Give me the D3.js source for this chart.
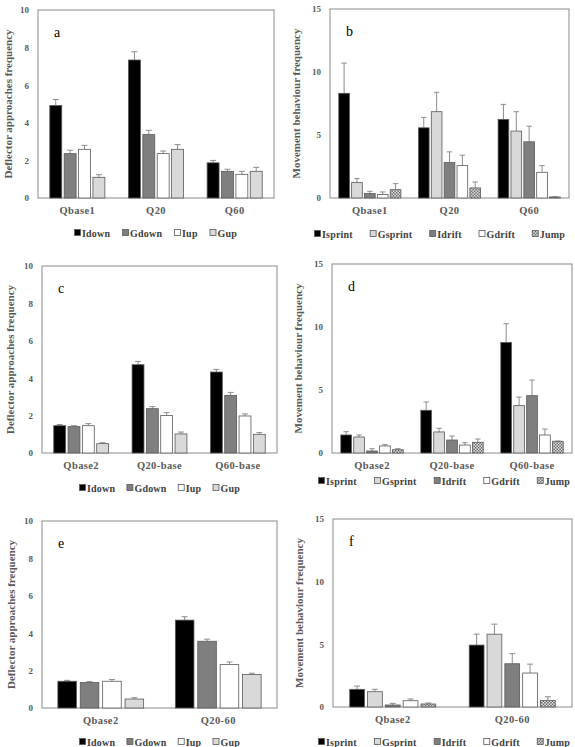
<!DOCTYPE html>
<html lang="en">
<head>
  <meta charset="UTF-8">
  <title>deflector and movement panels</title>
  <style>
    body { margin: 0; background: #fff; }
    svg text { font-family: "Liberation Serif", "Times New Roman", "DejaVu Serif", serif; font-weight: bold; }
  </style>
</head>
<body>
<script src="https://cdn.jsdelivr.net/npm/d3@7"></script>
<script>
  // categories and series
  var catsAB = ["Qbase1", "Q20", "Q60"];
  var catsCD = ["Qbase2", "Q20-base", "Q60-base"];
  var catsEF = ["Qbase2", "Q20-60"];
  var approachKeys = ["Idown", "Gdown", "Iup", "Gup"];
  var moveKeys = ["Isprint", "Gsprint", "Idrift", "Gdrift", "Jump"];
  var approachTicks = [0, 2, 4, 6, 8, 10];
  var moveTicks = [0, 5, 10, 15];

  // means and (upper) error bars, one row per category
  var meanA = [[4.92, 2.36, 2.59, 1.10], [7.34, 3.37, 2.36, 2.59], [1.87, 1.42, 1.26, 1.42]];
  var errA  = [[0.32, 0.18, 0.21, 0.14], [0.44, 0.23, 0.14, 0.25], [0.13, 0.11, 0.16, 0.21]];
  var meanB = [[8.31, 1.22, 0.35, 0.27, 0.66], [5.57, 6.85, 2.81, 2.57, 0.80], [6.24, 5.31, 4.46, 2.04, 0.08]];
  var errB  = [[2.39, 0.32, 0.18, 0.21, 0.48], [0.83, 1.54, 0.85, 0.83, 0.47], [1.19, 1.54, 1.24, 0.53, 0.02]];
  var meanC = [[1.46, 1.41, 1.46, 0.50], [4.72, 2.37, 2.01, 1.02], [4.33, 3.08, 1.98, 1.00]];
  var errC  = [[0.06, 0.05, 0.11, 0.05], [0.18, 0.11, 0.15, 0.10], [0.14, 0.16, 0.11, 0.09]];
  var meanD = [[1.43, 1.27, 0.16, 0.56, 0.26], [3.39, 1.67, 1.03, 0.63, 0.85], [8.78, 3.76, 4.55, 1.43, 0.93]];
  var errD  = [[0.26, 0.16, 0.18, 0.10, 0.08], [0.66, 0.29, 0.32, 0.19, 0.26], [1.48, 0.68, 1.24, 0.47, 0.02]];
  var meanE = [[1.43, 1.36, 1.43, 0.48], [4.70, 3.57, 2.32, 1.79]];
  var errE  = [[0.05, 0.05, 0.09, 0.07], [0.18, 0.11, 0.14, 0.07]];
  var meanF = [[1.41, 1.22, 0.16, 0.50, 0.24], [4.94, 5.81, 3.45, 2.71, 0.53]];
  var errF  = [[0.26, 0.19, 0.13, 0.14, 0.08], [0.87, 0.80, 0.80, 0.71, 0.29]];

  var approachFill = ["#000", "#7f7f7f", "#fff", "#d9d9d9"];
  var moveFill = ["#000", "#d9d9d9", "#7f7f7f", "#fff", "url(#jump)"];

  var svg = d3.select("body").append("svg")
    .attr("width", 575)
    .attr("height", 747);

  var pat = svg.append("defs").append("pattern")
    .attr("id", "jump")
    .attr("width", 3).attr("height", 3)
    .attr("patternUnits", "userSpaceOnUse");
  pat.append("rect").attr("width", 3).attr("height", 3).attr("fill", "#fff");
  pat.append("rect").attr("width", 1.5).attr("height", 1.5).attr("fill", "#4d4d4d");
  pat.append("rect").attr("x", 1.5).attr("y", 1.5).attr("width", 1.5).attr("height", 1.5).attr("fill", "#4d4d4d");

  var panels = [
    {label: "a", cats: catsAB, keys: approachKeys, mean: meanA, err: errA, fill: approachFill, ymax: 10, ticks: approachTicks,
     title: "Deflector approaches frequency", left: 38, top: 10, right: 274, bottom: 198, titleX: 12,
     legX: 74, legEnd: 237, legY: 233, pad: 0.3},
    {label: "b", cats: catsAB, keys: moveKeys, mean: meanB, err: errB, fill: moveFill, ymax: 15, ticks: moveTicks,
     title: "Movement behaviour frequency", left: 330, top: 9, right: 569, bottom: 198, titleX: 300,
     legX: 314, legEnd: 565, legY: 234, pad: 0.22},
    {label: "c", cats: catsCD, keys: approachKeys, mean: meanC, err: errC, fill: approachFill, ymax: 10, ticks: approachTicks,
     title: "Deflector approaches frequency", left: 42, top: 266, right: 277, bottom: 453, titleX: 14,
     legX: 79, legEnd: 240, legY: 488, pad: 0.3},
    {label: "d", cats: catsCD, keys: moveKeys, mean: meanD, err: errD, fill: moveFill, ymax: 15, ticks: moveTicks,
     title: "Movement behaviour frequency", left: 332, top: 264, right: 572, bottom: 453, titleX: 302,
     legX: 318, legEnd: 570, legY: 481, pad: 0.22},
    {label: "e", cats: catsEF, keys: approachKeys, mean: meanE, err: errE, fill: approachFill, ymax: 10, ticks: approachTicks,
     title: "Deflector approaches frequency", left: 42, top: 521, right: 277, bottom: 708, titleX: 15,
     legX: 79, legEnd: 240, legY: 742, pad: 0.27},
    {label: "f", cats: catsEF, keys: moveKeys, mean: meanF, err: errF, fill: moveFill, ymax: 15, ticks: moveTicks,
     title: "Movement behaviour frequency", left: 333, top: 519, right: 572, bottom: 707, titleX: 303,
     legX: 318, legEnd: 570, legY: 742, pad: 0.28}
  ];

  panels.forEach(drawPanel);

  function drawPanel(p) {
    var g = svg.append("g").attr("class", "panel-" + p.label);

    var x0 = d3.scaleBand()
      .domain(p.cats)
      .range([p.left, p.right])
      .paddingInner(p.pad)
      .paddingOuter(p.pad / 2);
    var x1 = d3.scaleBand()
      .domain(p.keys)
      .range([0, x0.bandwidth()])
      .paddingInner(0.17);
    var y = d3.scaleLinear()
      .domain([0, p.ymax])
      .range([p.bottom, p.top]);

    g.append("rect")
      .attr("x", p.left).attr("y", p.top)
      .attr("width", p.right - p.left).attr("height", p.bottom - p.top)
      .attr("fill", "none")
      .attr("stroke", "#8a8a8a");

    var yAxis = g.append("g")
      .attr("transform", "translate(" + p.left + ",0)")
      .call(d3.axisLeft(y).tickValues(p.ticks).tickSize(0).tickPadding(9));
    yAxis.select(".domain").remove();
    yAxis.selectAll("text").attr("fill", "#595959").style("font-size", "9px");

    var xAxis = g.append("g")
      .attr("transform", "translate(0," + p.bottom + ")")
      .call(d3.axisBottom(x0).tickSize(0).tickPadding(9));
    xAxis.select(".domain").remove();
    xAxis.selectAll("text").attr("fill", "#595959").style("font-size", "10.5px").style("letter-spacing", "0.4px");

    g.append("text")
      .attr("transform", "translate(" + p.titleX + "," + ((p.top + p.bottom) / 2) + ") rotate(-90)")
      .attr("text-anchor", "middle")
      .attr("fill", "#595959")
      .style("font-size", "11px")
      .text(p.title);

    g.append("text")
      .attr("x", p.left + 16)
      .attr("y", p.top + 27)
      .attr("fill", "#000")
      .style("font-size", "14px")
      .style("font-weight", "normal")
      .text(p.label);

    var groups = g.selectAll(".grp")
      .data(p.cats)
      .enter().append("g")
      .attr("class", "grp")
      .attr("transform", function(d) { return "translate(" + x0(d) + ",0)"; });

    groups.each(function(cat, i) {
      var rows = p.keys.map(function(k, j) { return {key: k, j: j, v: p.mean[i][j], e: p.err[i][j]}; });
      var sel = d3.select(this);

      // error bars (upper only)
      sel.selectAll(".err")
        .data(rows)
        .enter().append("path")
        .attr("class", "err")
        .attr("fill", "none")
        .attr("stroke", "#8c8c8c")
        .attr("stroke-width", 1)
        .attr("d", function(d) {
          var cx = x1(d.key) + x1.bandwidth() / 2;
          var w = Math.min(3, x1.bandwidth() / 4);
          return "M" + cx + "," + y(d.v) + "V" + y(d.v + d.e) + "M" + (cx - w) + "," + y(d.v + d.e) + "H" + (cx + w);
        });

      sel.selectAll(".bar")
        .data(rows)
        .enter().append("rect")
        .attr("class", "bar")
        .attr("x", function(d) { return x1(d.key); })
        .attr("y", function(d) { return y(d.v); })
        .attr("width", x1.bandwidth())
        .attr("height", function(d) { return y(0) - y(d.v); })
        .attr("fill", function(d) { return p.fill[d.j]; })
        .attr("stroke", "#595959")
        .attr("stroke-width", 0.8);
    });

    // legend: items spread so they span legX..legEnd
    var leg = g.append("g").attr("transform", "translate(" + p.legX + "," + p.legY + ")");
    var items = p.keys.map(function(k, j) {
      var item = leg.append("g");
      item.append("rect")
        .attr("x", 0.5).attr("y", -3.5)
        .attr("width", 6).attr("height", 6)
        .attr("fill", p.fill[j])
        .attr("stroke", "#595959")
        .attr("stroke-width", 0.8);
      var t = item.append("text")
        .attr("x", 8)
        .attr("y", 3.5)
        .attr("fill", "#404040")
        .style("font-size", "10px")
        .style("letter-spacing", "0.2px")
        .text(k);
      return {g: item, w: 8 + t.node().getComputedTextLength()};
    });
    var total = d3.sum(items, function(d) { return d.w; });
    var gap = Math.max(4, (p.legEnd - p.legX - total) / (items.length - 1));
    var cursor = 0;
    items.forEach(function(it) {
      it.g.attr("transform", "translate(" + cursor + ",0)");
      cursor += it.w + gap;
    });
  }
</script>
</body>
</html>
